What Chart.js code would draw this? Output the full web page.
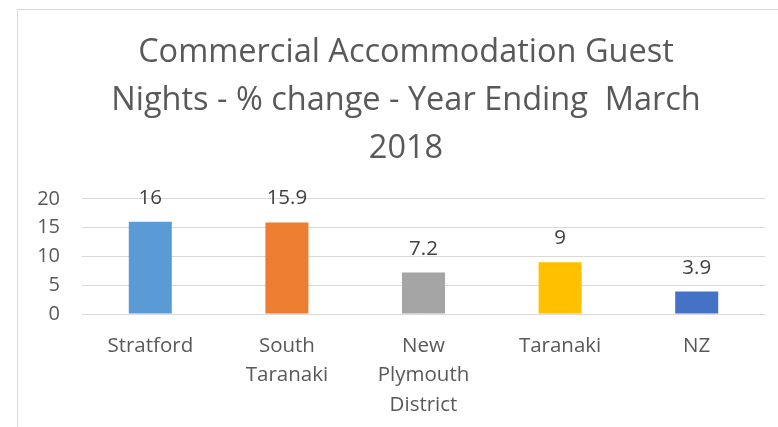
<!DOCTYPE html>
<html>
<head>
<meta charset="utf-8">
<script src="https://cdn.jsdelivr.net/npm/chart.js@4"></script>
<style>
  html, body { margin: 0; padding: 0; background: #fff; overflow: hidden; }
  #wrap {
    position: absolute; left: 17px; top: 9px; width: 776px; height: 418px;
    border-left: 1px solid #d9d9d9; border-top: 1px solid #d9d9d9;
  }
  #chart { display: block; }
</style>
</head>
<body>
<div id="wrap"><canvas id="chart" width="776" height="418"></canvas></div>
<script>
const categories = ["Stratford", ["South", "Taranaki"], ["New", "Plymouth", "District"], "Taranaki", "NZ"];
const changes = [16, 15.9, 7.2, 9, 3.9];
const barColours = ["#5b9bd5", "#ed7d31", "#a5a5a5", "#ffc000", "#4472c4"];
const yTicks = [0, 5, 10, 15, 20];
const titleLines = ["Commercial Accommodation Guest", "Nights - % change - Year Ending  March", "2018"];

const textColour = "#595959";
const fontName = "Open Sans";

// value labels above each bar
const barLabels = {
  id: "barLabels",
  afterDatasetsDraw(chart) {
    const ctx = chart.ctx;
    const meta = chart.getDatasetMeta(0);
    ctx.save();
    ctx.font = "20.5px '" + fontName + "'";
    ctx.fillStyle = "#404040";
    ctx.textAlign = "center";
    ctx.textBaseline = "alphabetic";
    meta.data.forEach((bar, i) => {
      ctx.fillText(String(changes[i]), bar.x, bar.y - 18);
    });
    ctx.restore();
  }
};

new Chart(document.getElementById("chart").getContext("2d"), {
  type: "bar",
  data: {
    labels: categories,
    datasets: [{
      data: changes,
      backgroundColor: barColours,
      categoryPercentage: 1,
      barPercentage: 0.315
    }]
  },
  options: {
    responsive: false,
    animation: false,
    layout: { padding: 0 },
    plugins: {
      legend: { display: false },
      tooltip: { enabled: false },
      title: {
        display: true,
        text: titleLines,
        color: textColour,
        font: { family: fontName, size: 32.5, weight: "normal", lineHeight: 1.475 },
        padding: { top: 19, bottom: 26 }
      }
    },
    scales: {
      x: {
        grid: { display: false },
        border: { display: false },
        ticks: {
          color: textColour,
          font: { family: fontName, size: 20.5, lineHeight: 1.44 },
          padding: 9,
          maxRotation: 0,
          autoSkip: false
        },
        afterFit(scale) { scale.height = 114; }
      },
      y: {
        min: 0,
        max: 20,
        afterBuildTicks(scale) { scale.ticks = yTicks.map(v => ({ value: v })); },
        grid: { color: "#d9d9d9", lineWidth: 1, drawTicks: false },
        border: { display: false },
        ticks: {
          color: textColour,
          font: { family: fontName, size: 20 },
          padding: 22
        },
        afterFit(scale) { scale.width = 64; }
      },
      // empty right-hand spacer so the plot stops short of the right edge
      spacer: {
        position: "right",
        grid: { display: false },
        border: { display: false },
        ticks: { display: false },
        afterFit(scale) { scale.width = 29; }
      }
    }
  },
  plugins: [barLabels]
});
</script>
</body>
</html>
